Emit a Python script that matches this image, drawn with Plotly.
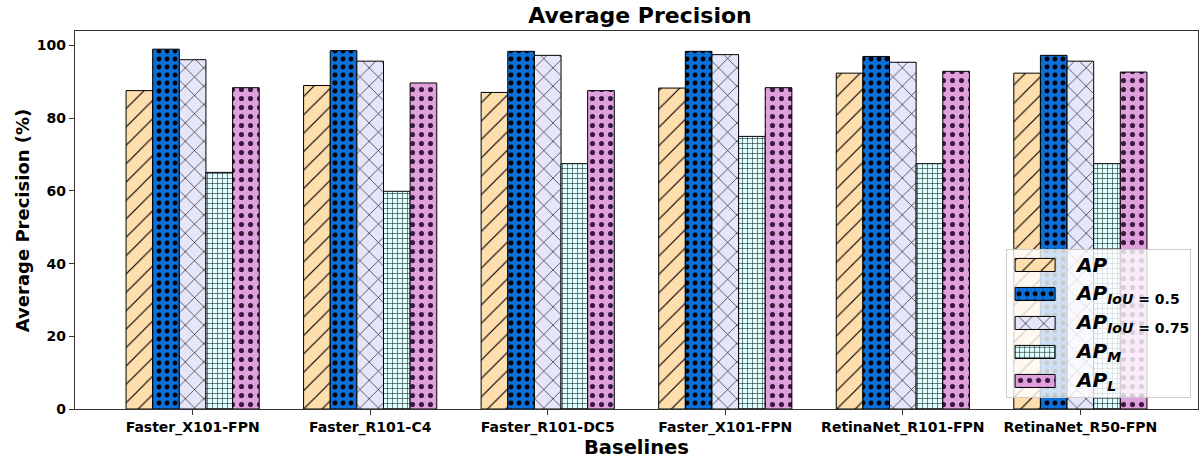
import plotly.graph_objects as go

# ---- data -------------------------------------------------------------
baselines = ["Faster_X101-FPN", "Faster_R101-C4", "Faster_R101-DC5",
             "Faster_X101-FPN", "RetinaNet_R101-FPN", "RetinaNet_R50-FPN"]
ap = [87.6, 89.0, 87.1, 88.3, 92.4, 92.4]
ap_iou50 = [99.0, 98.6, 98.4, 98.4, 97.0, 97.3]
ap_iou75 = [96.1, 95.7, 97.3, 97.5, 95.4, 95.7]
ap_m = [65.1, 59.9, 67.5, 75.0, 67.5, 67.5]
ap_l = [88.4, 89.7, 87.6, 88.4, 92.9, 92.7]
y_ticks = [0, 20, 40, 60, 80, 100]

legend_labels = [
    "<b><i>AP</i></b>",
    "<b><i>AP</i><sub><i>IoU</i> = 0.5</sub></b>",
    "<b><i>AP</i><sub><i>IoU</i> = 0.75</sub></b>",
    "<b><i>AP</i><sub><i>M</i></sub></b>",
    "<b><i>AP</i><sub><i>L</i></sub></b>",
]

# ---- styles -----------------------------------------------------------
FONT = "DejaVu Sans"
styles = [
    dict(color="#FFDEAD", shape="/", size=13, solidity=0.09, fg="black"),
    dict(color="#0A6FD8", shape=".", size=8, solidity=0.3, fg="black"),
    dict(color="#E6E6FA", shape="x", size=13, solidity=0.09, fg="black"),
    dict(color="#E0FFFF", shape="+", size=5, solidity=0.22, fg="#1a2a2a"),
    dict(color="#E0A0DC", shape=".", size=9, solidity=0.25, fg="#3a1840"),
]
series = [ap, ap_iou50, ap_iou75, ap_m, ap_l]
x = list(range(len(baselines)))


def bar_marker(st):
    return dict(color=st["color"],
                line=dict(color="black", width=1),
                pattern=dict(shape=st["shape"], size=st["size"],
                             solidity=st["solidity"], fgcolor=st["fg"],
                             bgcolor=st["color"], fillmode="replace"))


fig = go.Figure()
for vals, st in zip(series, styles):
    fig.add_trace(go.Bar(x=x, y=vals, showlegend=False,
                         marker=bar_marker(st), xaxis="x", yaxis="y"))

# ---- legend drawn as a small inset panel ------------------------------
SWATCH_START, SWATCH_LEN = 8, 40
rows = list(range(len(legend_labels)))
for r, st in zip(rows, styles):
    fig.add_trace(go.Bar(
        x=[SWATCH_LEN], y=[r], base=[SWATCH_START], orientation="h",
        width=0.45, showlegend=False, hoverinfo="skip",
        marker=bar_marker(st), xaxis="x2", yaxis="y2",
    ))
for r, lab in zip(rows, legend_labels):
    fig.add_annotation(x=66, y=r, xref="x2", yref="y2", text=lab,
                       showarrow=False, xanchor="left", yanchor="middle",
                       font=dict(family=FONT, size=20, color="black"))

fig.update_layout(
    width=1204, height=462,
    margin=dict(l=75, r=6, t=31, b=53),
    paper_bgcolor="white",
    plot_bgcolor="rgba(255,255,255,0.8)",
    barmode="group", bargap=0.25, bargroupgap=0,
    showlegend=False,
    font=dict(family=FONT, color="black"),
    title=dict(text="<b>Average Precision</b>", x=640 / 1204, xanchor="center",
               y=1 - 15 / 462, yanchor="middle", yref="container",
               font=dict(family=FONT, size=22, color="black")),
    xaxis=dict(
        domain=[0, 1], range=[-0.6625, 5.6625],
        tickmode="array", tickvals=x,
        ticktext=[f"<b>{b}</b>" for b in baselines],
        tickfont=dict(family=FONT, size=14, color="black"),
        ticks="outside", ticklen=5, tickcolor="#333",
        showline=True, linecolor="#333", linewidth=1.2, mirror=True,
        showgrid=False, zeroline=False,
    ),
    yaxis=dict(
        domain=[0, 1], range=[0, 104],
        tickmode="array", tickvals=y_ticks,
        ticktext=[f"<b>{t}</b>" for t in y_ticks],
        tickfont=dict(family=FONT, size=14, color="black"),
        ticks="outside", ticklen=5, tickcolor="#333",
        showline=True, linecolor="#333", linewidth=1.2, mirror=True,
        showgrid=False, zeroline=False,
    ),
    xaxis2=dict(
        domain=[0.830, 0.993], range=[0, 183], anchor="y2",
        showline=True, linecolor="#cccccc", linewidth=1, mirror=True,
        showticklabels=False, ticks="", showgrid=False, zeroline=False,
        fixedrange=True,
    ),
    yaxis2=dict(
        domain=[0.032, 0.421], range=[4.55, -0.52], anchor="x2",
        showline=True, linecolor="#cccccc", linewidth=1, mirror=True,
        showticklabels=False, ticks="", showgrid=False, zeroline=False,
        fixedrange=True,
    ),
)

fig.add_annotation(text="<b>Average Precision (%)</b>", textangle=-90,
                   x=-0.047, y=0.5, xref="paper", yref="paper",
                   xanchor="center", yanchor="middle", showarrow=False,
                   font=dict(family=FONT, size=18, color="black"))
fig.add_annotation(text="<b>Baselines</b>",
                   x=0.5, y=-0.103, xref="paper", yref="paper",
                   xanchor="center", yanchor="middle", showarrow=False,
                   font=dict(family=FONT, size=19.5, color="black"))

fig.write_html("out.html")
